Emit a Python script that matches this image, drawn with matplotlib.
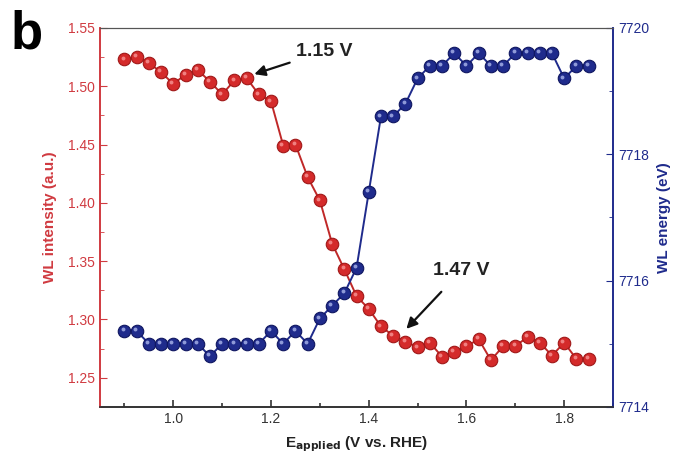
import numpy as np
import matplotlib.pyplot as plt
from matplotlib.ticker import MultipleLocator
from matplotlib import transforms

plt.rcParams['font.family'] = ['Liberation Sans', 'DejaVu Sans']

# applied potential (V vs. RHE)
potential = [0.900, 0.925, 0.950, 0.975, 1.000, 1.025, 1.050, 1.075, 1.100, 1.125,
             1.150, 1.175, 1.200, 1.225, 1.250, 1.275, 1.300, 1.325, 1.350, 1.375,
             1.400, 1.425, 1.450, 1.475, 1.500, 1.525, 1.550, 1.575, 1.600, 1.625,
             1.650, 1.675, 1.700, 1.725, 1.750, 1.775, 1.800, 1.825, 1.850]

# white line intensity (a.u.)
wl_intensity = [1.523, 1.525, 1.520, 1.512, 1.502, 1.510, 1.514, 1.504, 1.493, 1.505,
                1.507, 1.493, 1.487, 1.449, 1.450, 1.422, 1.402, 1.365, 1.343, 1.320,
                1.309, 1.294, 1.286, 1.281, 1.276, 1.280, 1.268, 1.272, 1.277, 1.283,
                1.265, 1.277, 1.277, 1.285, 1.280, 1.269, 1.280, 1.266, 1.266]

# white line energy (eV)
wl_energy = [7715.2, 7715.2, 7715.0, 7715.0, 7715.0, 7715.0, 7715.0, 7714.8, 7715.0, 7715.0,
             7715.0, 7715.0, 7715.2, 7715.0, 7715.2, 7715.0, 7715.4, 7715.6, 7715.8, 7716.2,
             7717.4, 7718.6, 7718.6, 7718.8, 7719.2, 7719.4, 7719.4, 7719.6, 7719.4, 7719.6,
             7719.4, 7719.4, 7719.6, 7719.6, 7719.6, 7719.6, 7719.2, 7719.4, 7719.4]

red = '#d42a2a'
red_dark = '#a01818'
red_axis = '#d03a40'
navy = '#1f2b8c'
navy_dark = '#0f1660'

fig = plt.figure(figsize=(6.85, 4.66), dpi=100)
ax = fig.add_axes([0.146, 0.127, 0.749, 0.813])
ax2 = ax.twinx()

# ball-like markers: base + small highlight
ax.plot(potential, wl_intensity, '-', color='#c02828', lw=1.4, zorder=2)
ax.plot(potential, wl_intensity, 'o', ms=9, mfc=red, mec=red_dark, mew=0.8, zorder=3)
hl = transforms.offset_copy(ax.transData, fig=fig, x=-1.3, y=1.3, units='points')
ax.plot(potential, wl_intensity, 'o', ms=2.8, mfc='#f08080', mec='none', transform=hl, zorder=4)

ax2.plot(potential, wl_energy, '-', color=navy, lw=1.4, zorder=2)
ax2.plot(potential, wl_energy, 'o', ms=9, mfc=navy, mec=navy_dark, mew=0.8, zorder=3)
hl2 = transforms.offset_copy(ax2.transData, fig=fig, x=-1.3, y=1.3, units='points')
ax2.plot(potential, wl_energy, 'o', ms=2.8, mfc='#8f9ad8', mec='none', transform=hl2, zorder=4)

ax.set_xlim(0.85, 1.9)
ax.set_ylim(1.225, 1.55)
ax2.set_ylim(7714, 7720)

ax.xaxis.set_major_locator(MultipleLocator(0.2))
ax.xaxis.set_minor_locator(MultipleLocator(0.1))
ax.yaxis.set_major_locator(MultipleLocator(0.05))
ax.yaxis.set_minor_locator(MultipleLocator(0.025))
ax2.yaxis.set_major_locator(MultipleLocator(2))
ax2.yaxis.set_minor_locator(MultipleLocator(1))
ax.yaxis.set_major_formatter(plt.FormatStrFormatter('%.2f'))
ax.xaxis.set_major_formatter(plt.FormatStrFormatter('%.1f'))

ax.tick_params(axis='x', which='both', direction='in', colors='#333333', labelsize=10, top=False)
ax.tick_params(axis='x', which='major', length=5, width=1.2)
ax.tick_params(axis='x', which='minor', length=3, width=1.2)
ax.tick_params(axis='y', which='both', direction='in', colors=red_axis, labelsize=10)
ax.tick_params(axis='y', which='major', length=5)
ax.tick_params(axis='y', which='minor', length=3)
ax2.tick_params(axis='y', which='both', direction='in', colors=navy, labelsize=10)
ax2.tick_params(axis='y', which='major', length=5)
ax2.tick_params(axis='y', which='minor', length=3)

for a in (ax, ax2):
    a.spines['top'].set_color('#555555')
    a.spines['bottom'].set_color('#333333')
    a.spines['bottom'].set_linewidth(1.2)
    a.spines['left'].set_color(red_axis)
    a.spines['right'].set_color(navy)
    a.spines['left'].set_linewidth(1.2)
    a.spines['right'].set_linewidth(1.2)

ax.set_ylabel('WL intensity (a.u.)', color=red_axis, fontsize=11, fontweight='bold', labelpad=8)
ax2.set_ylabel('WL energy (eV)', color=navy, fontsize=11, fontweight='bold', labelpad=6)
ax.set_xlabel(r'E$_{\mathbf{applied}}$ (V vs. RHE)', color='#222222', fontsize=11,
              fontweight='bold', labelpad=6)

ax.annotate('1.15 V', xy=(1.163, 1.510), xytext=(1.252, 1.530),
            fontsize=14, fontweight='bold', color='#222222', va='center',
            arrowprops=dict(arrowstyle='-|>', color='#111111', lw=1.6, mutation_scale=16,
                            shrinkA=3, shrinkB=1))
ax.annotate('1.47 V', xy=(1.475, 1.291), xytext=(1.532, 1.342),
            fontsize=14, fontweight='bold', color='#222222', va='center',
            arrowprops=dict(arrowstyle='-|>', color='#111111', lw=1.6, mutation_scale=16,
                            shrinkA=10, shrinkB=1))

fig.text(0.015, 0.925, 'b', fontsize=38, fontweight='bold', color='black', va='center')

fig.savefig('out.png', dpi=100)
